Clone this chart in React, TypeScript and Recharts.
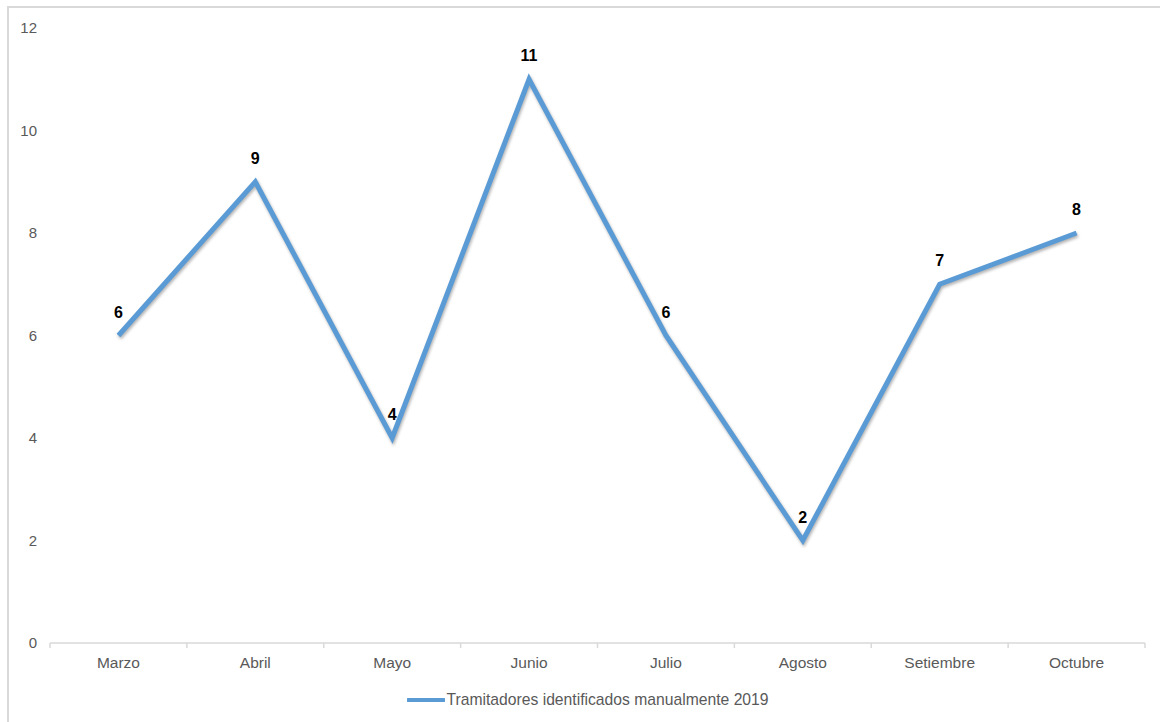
import { LineChart, Line, XAxis, YAxis, Legend, LabelList } from "recharts";

// Monthly count of manually identified applicants, 2019
const months = ["Marzo", "Abril", "Mayo", "Junio", "Julio", "Agosto", "Setiembre", "Octubre"];
const tramitadores = [6, 9, 4, 11, 6, 2, 7, 8];
const yTicks = [0, 2, 4, 6, 8, 10, 12];
const seriesName = "Tramitadores identificados manualmente 2019";

// Excel-style category axis: marks sit on band edges, labels at band centres
const xTicks = Array.from({ length: months.length * 2 + 1 }, (_, i) => i / 2);

const data = months.map((month, i) => ({
  month,
  pos: i + 0.5,
  value: tramitadores[i],
}));

const AXIS_GREY = "#d9d9d9";
const TEXT_GREY = "#595959";
const LINE_BLUE = "#5b9bd5";
const FONT = "'Liberation Sans', Arial, sans-serif";

const MonthTick = (props: any) => {
  const { x, y, payload } = props;
  const v = payload.value as number;
  if (Number.isInteger(v)) {
    return <line x1={x} x2={x} y1={y} y2={y + 5} stroke={AXIS_GREY} strokeWidth={1.5} />;
  }
  return (
    <text x={x} y={y + 25} textAnchor="middle" fill={TEXT_GREY} fontSize={15.5} fontFamily={FONT}>
      {months[Math.floor(v)]}
    </text>
  );
};

const LegendContent = () => (
  <div
    style={{
      display: "flex",
      justifyContent: "center",
      alignItems: "center",
      fontFamily: FONT,
      fontSize: 15.7,
      color: TEXT_GREY,
      paddingLeft: 22,
    }}
  >
    <svg width={38} height={8} style={{ marginRight: 1 }}>
      <line x1={1} x2={37} y1={4} y2={4} stroke={LINE_BLUE} strokeWidth={4} strokeLinecap="round" />
    </svg>
    <span>{seriesName}</span>
  </div>
);

export default function App() {
  return (
    <div
      style={{
        position: "absolute",
        left: 7,
        top: 6,
        borderTop: `2px solid ${AXIS_GREY}`,
        borderLeft: `2px solid ${AXIS_GREY}`,
        background: "#fff",
      }}
    >
      <style>{`.recharts-line-curve { filter: drop-shadow(1px 2px 1.5px rgba(0,0,0,0.3)); }`}</style>
      <LineChart
        width={1151}
        height={716}
        data={data}
        margin={{ top: 20, right: 15, left: 0, bottom: 6 }}
      >
        <XAxis
          dataKey="pos"
          type="number"
          domain={[0, months.length]}
          ticks={xTicks}
          interval={0}
          tick={<MonthTick />}
          tickLine={false}
          tickSize={0}
          tickMargin={0}
          axisLine={{ stroke: AXIS_GREY, strokeWidth: 1.5 }}
          height={48}
        />
        <YAxis
          domain={[0, 12]}
          ticks={yTicks}
          axisLine={false}
          tickLine={false}
          tickSize={0}
          tickMargin={13}
          width={41}
          tick={{ fill: TEXT_GREY, fontSize: 15, fontFamily: FONT }}
        />
        <Legend verticalAlign="bottom" height={27} content={<LegendContent />} />
        <Line
          type="linear"
          dataKey="value"
          name={seriesName}
          stroke={LINE_BLUE}
          strokeWidth={5}
          dot={false}
          activeDot={false}
          isAnimationActive={false}
        >
          <LabelList
            dataKey="value"
            position="top"
            offset={18}
            fill="#000"
            fontSize={16}
            fontWeight="bold"
            fontFamily={FONT}
          />
        </Line>
      </LineChart>
    </div>
  );
}
